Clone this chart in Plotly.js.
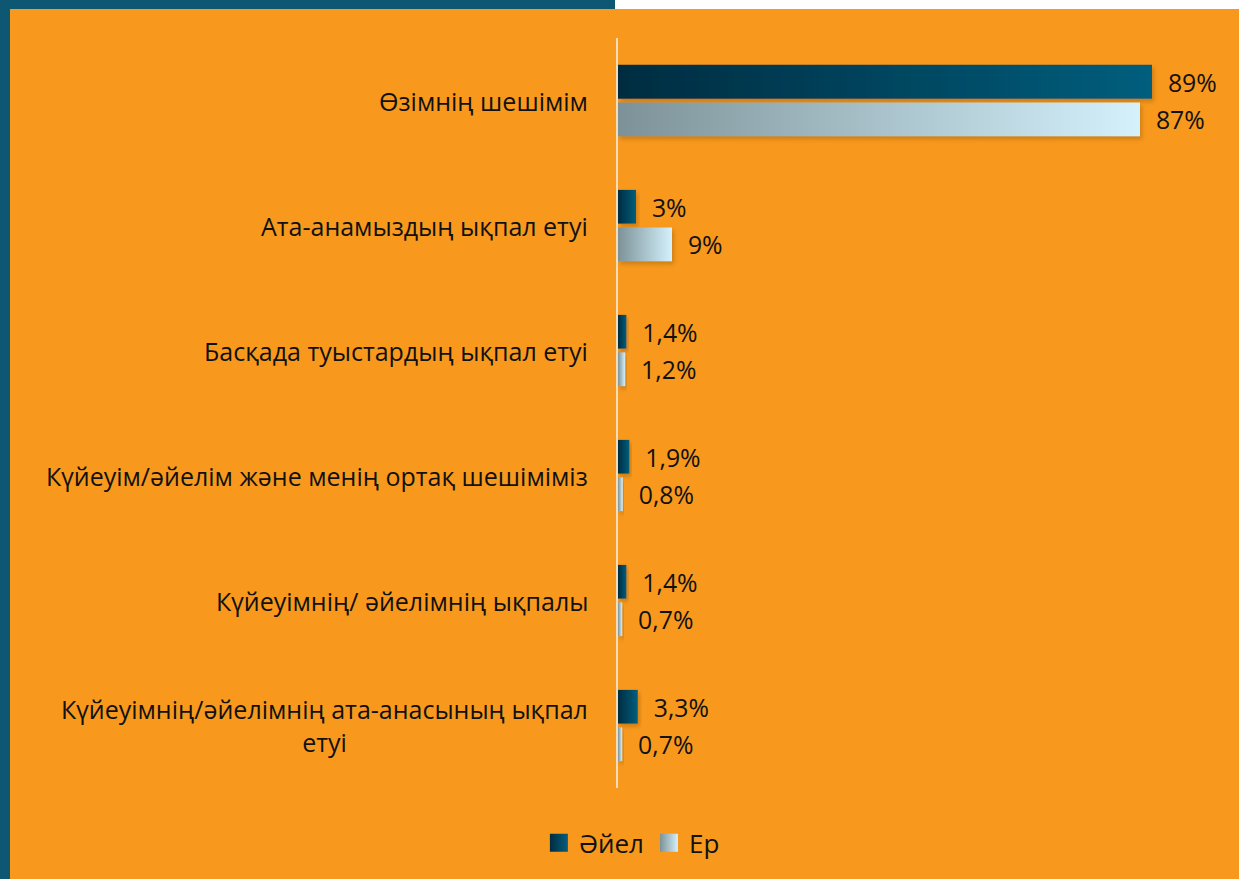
<!DOCTYPE html>
<html>
<head>
<meta charset="utf-8">
<script src="https://cdn.plot.ly/plotly-3.0.1.min.js"></script>
<style>
  html, body { margin: 0; padding: 0; width: 1239px; height: 879px; overflow: hidden; background: #F8991D; }
  #chart { position: absolute; left: 0; top: 0; width: 1239px; height: 879px; }
  .strip { position: absolute; }
</style>
</head>
<body>
<div id="chart"></div>
<div class="strip" style="left:0;top:0;width:10px;height:879px;background:#0D5773;"></div>
<div class="strip" style="left:0;top:0;width:615px;height:9px;background:#0D5773;"></div>
<div class="strip" style="left:615px;top:0;width:624px;height:9px;background:#FFFFFF;"></div>
<script>
const categories = [
  "Өзімнің шешімім",
  "Ата-анамыздың ықпал етуі",
  "Басқада туыстардың ықпал етуі",
  "Күйеуім/әйелім және менің ортақ шешіміміз",
  "Күйеуімнің/ әйелімнің ықпалы",
  "Күйеуімнің/әйелімнің ата-анасының ықпал<br>етуі"
];
const seriesNames = ["Әйел", "Ер"];
const womenValues = [89, 3, 1.4, 1.9, 1.4, 3.3];
const menValues = [87, 9, 1.2, 0.8, 0.7, 0.7];
const womenLabels = ["89%", "3%", "1,4%", "1,9%", "1,4%", "3,3%"];
const menLabels = ["87%", "9%", "1,2%", "0,8%", "0,7%", "0,7%"];

const FONT = '"Open Sans", "Noto Sans", sans-serif';
const pad = s => '\u00a0\u00a0' + s;

const traces = [
  {
    type: 'bar', orientation: 'h', name: seriesNames[0],
    y: categories, x: womenValues,
    text: womenLabels.map(pad), textposition: 'outside', cliponaxis: false,
    textfont: {family: FONT, size: 25, color: '#111111'},
    marker: {color: '#06455F'}, hoverinfo: 'skip'
  },
  {
    type: 'bar', orientation: 'h', name: seriesNames[1],
    y: categories, x: menValues,
    text: menLabels.map(pad), textposition: 'outside', cliponaxis: false,
    textfont: {family: FONT, size: 25, color: '#111111'},
    marker: {color: '#AEC7D0'}, hoverinfo: 'skip'
  }
];

const annotations = categories.map(c => ({
  xref: 'paper', yref: 'y', x: 0, y: c, xanchor: 'right', yanchor: 'middle',
  xshift: -28, text: c, showarrow: false, align: 'center',
  font: {family: FONT, size: 25, color: '#111111'}
}));

const layout = {
  width: 1239, height: 879,
  margin: {l: 618, r: 21, t: 38, b: 91, pad: 0},
  paper_bgcolor: '#F8991D', plot_bgcolor: 'rgba(0,0,0,0)',
  barmode: 'group', bargap: 0.4, bargroupgap: 0.1,
  font: {family: FONT, color: '#111111'},
  xaxis: {range: [0, 100], showgrid: false, zeroline: false, showticklabels: false, showline: false, fixedrange: true},
  yaxis: {autorange: 'reversed', showticklabels: false, showgrid: false, zeroline: false,
          showline: true, linecolor: '#F6DDBA', linewidth: 2, ticks: '', fixedrange: true},
  annotations: annotations,
  showlegend: true,
  legend: {orientation: 'h', xref: 'container', yref: 'container', x: 0.51, y: 0.041,
           xanchor: 'center', yanchor: 'middle', font: {family: FONT, size: 26, color: '#111111'},
           bgcolor: 'rgba(0,0,0,0)', itemwidth: 30}
};

const gradients = [
  {id: 'gradW', from: '#002C40', to: '#065E7D'},
  {id: 'gradM', from: '#7D9298', to: '#D4F1FC'}
];

Plotly.newPlot('chart', traces, layout, {displayModeBar: false, staticPlot: true}).then(gd => {
  const NS = 'http://www.w3.org/2000/svg';
  const svg = gd.querySelector('svg.main-svg');
  const defs = document.createElementNS(NS, 'defs');
  gradients.forEach(g => {
    const lg = document.createElementNS(NS, 'linearGradient');
    lg.setAttribute('id', g.id);
    lg.setAttribute('x1', '0'); lg.setAttribute('y1', '0');
    lg.setAttribute('x2', '1'); lg.setAttribute('y2', '0');
    [[0, g.from], [1, g.to]].forEach(([o, c]) => {
      const s = document.createElementNS(NS, 'stop');
      s.setAttribute('offset', o); s.setAttribute('stop-color', c);
      lg.appendChild(s);
    });
    defs.appendChild(lg);
  });
  const f = document.createElementNS(NS, 'filter');
  f.setAttribute('id', 'barShadow');
  f.setAttribute('x', '-10%'); f.setAttribute('y', '-20%');
  f.setAttribute('width', '130%'); f.setAttribute('height', '160%');
  const ds = document.createElementNS(NS, 'feDropShadow');
  ds.setAttribute('dx', '2'); ds.setAttribute('dy', '3'); ds.setAttribute('stdDeviation', '2');
  ds.setAttribute('flood-color', '#7a4a00'); ds.setAttribute('flood-opacity', '0.35');
  f.appendChild(ds);
  defs.appendChild(f);
  svg.insertBefore(defs, svg.firstChild);

  gd.querySelectorAll('.barlayer .trace.bars').forEach((tr, i) => {
    tr.querySelectorAll('.point path').forEach(p => {
      p.style.fill = 'url(#' + gradients[i].id + ')';
      p.setAttribute('filter', 'url(#barShadow)');
    });
  });
  gd.querySelectorAll('.legend .traces').forEach((tr, i) => {
    tr.querySelectorAll('.legendpoints path').forEach(p => {
      p.setAttribute('d', 'M9,9H-9V-9H9Z');
      p.style.fill = 'url(#' + gradients[i].id + ')';
    });
  });
});
</script>
</body>
</html>
